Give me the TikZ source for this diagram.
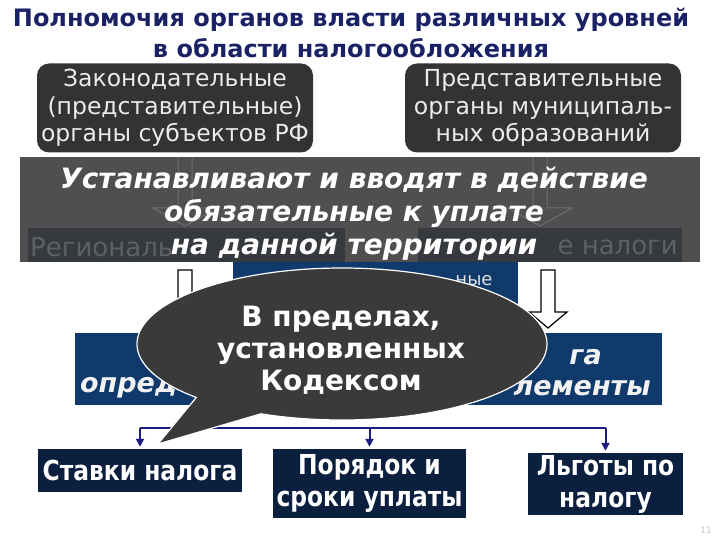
\documentclass[tikz,border=0pt]{standalone}
\usepackage{fontspec}
\setmainfont{DejaVu Sans}[ItalicFont=DejaVu Sans Oblique, BoldItalicFont=DejaVu Sans Bold Oblique]
\newfontfamily\narrowfont{DejaVu Sans}[FakeStretch=0.85]
\usetikzlibrary{positioning,shapes.callouts,arrows.meta}
\definecolor{titleblue}{HTML}{1A2266}
\definecolor{charcoal}{HTML}{333333}
\definecolor{bannergray}{HTML}{4F4F4F}
\definecolor{barslate}{HTML}{363A3E}
\definecolor{bartext}{HTML}{5E6164}
\definecolor{ghostline}{HTML}{6E6E6E}
\definecolor{navy}{HTML}{0F3A6B}
\definecolor{deepnavy}{HTML}{0B1F3F}
\definecolor{treeblue}{HTML}{1C1C80}
\definecolor{bubble}{HTML}{3A3A3A}

\begin{document}
\begin{tikzpicture}[x=1pt,y=-1pt,
  organ/.style={fill=charcoal, rounded corners=12pt, text=black!8, align=center,
    font=\fontsize{23.5}{27.5}\selectfont, inner sep=0pt},
  taxbox/.style={fill=deepnavy, text=white, align=center, inner sep=0pt,
    font=\narrowfont\bfseries\fontsize{27.5}{32}\selectfont},
  frag/.style={text=black!5, inner sep=0pt, font=\bfseries\itshape\fontsize{27}{31}\selectfont},
  ghosttext/.style={text=bartext, inner sep=0pt, font=\fontsize{26}{30}\selectfont},
  hollow/.style={draw=black, fill=white, line width=1.2pt},
  tree/.style={draw=treeblue, line width=2pt}]
\useasboundingbox (0,0) rectangle (720,540);

% title
\node[text=titleblue, align=center, font=\bfseries\fontsize{24}{31}\selectfont] (title) at (351,33)
  {Полномочия органов власти различных уровней\\в области налогообложения};

% legislative bodies
\node[organ, minimum width=276, minimum height=89] (regional) at (175,108)
  {Законодательные\\(представительные)\\органы субъектов РФ};
\node[organ, minimum width=276, minimum height=89] (municipal) at (543,108)
  {Представительные\\органы муниципаль-\\ных образований};

% banner with the layer below showing through
\fill[bannergray] (20,157) rectangle (700,262);
\fill[barslate] (28,228) rectangle (345,262);
\fill[barslate] (418,228) rectangle (682,262);
\node[ghosttext, anchor=west] (regtax) at (30,247) {Региональ};
\node[ghosttext, anchor=east] (loctax) at (678,247) {е налоги};
\foreach \ax in {185,540}
  \draw[ghostline, line width=1pt] (\ax-7,157) -- (\ax-7,208) -- (\ax-32,208) -- (\ax,226)
    -- (\ax+32,208) -- (\ax+7,208) -- (\ax+7,157);
\node[text=white, align=center, inner sep=0pt, font=\bfseries\itshape\fontsize{28}{33}\selectfont] (enact) at (354,214)
  {Устанавливают и вводят в действие\\обязательные к уплате\\на данной территории};

% partly hidden box
\fill[navy] (233,262) rectangle (518,305);
\node[text=black!12, inner sep=0pt, font=\fontsize{18}{20}\selectfont] (hidden) at (474,281) {ные};

% hollow arrows
\foreach \ax in {185,548}
  \draw[hollow] (\ax-7,270) -- (\ax-7,312) -- (\ax-19,312) -- (\ax,328)
    -- (\ax+19,312) -- (\ax+7,312) -- (\ax+7,270) -- cycle;

% elements box
\fill[navy] (75,333) rectangle (662,405);
\node[frag, anchor=east] (elem1) at (602,357) {га};
\node[frag, anchor=west] (elem2) at (80,388) {опред};
\node[frag, anchor=east] (elem3) at (651,388) {лементы};

% bottom boxes
\node[taxbox, minimum width=204, minimum height=43] (rates) at (140,470.5) {Ставки налога};
\node[taxbox, minimum width=193, minimum height=69] (order) at (369.5,483.5) {Порядок и\\сроки уплаты};
\node[taxbox, minimum width=155, minimum height=62] (benefits) at (605.5,484) {Льготы по\\налогу};
\coordinate (fork) at (370,428);
\draw[tree] (rates.north |- fork) -- (benefits.north |- fork);
\foreach \b in {rates,order,benefits}
  \draw[tree, -{Triangle[width=8pt,length=8pt]}, shorten >=2pt] (\b.north |- fork) -- (\b.north);

% callout
\node[ellipse callout, callout absolute pointer={(158,444)}, callout pointer arc=22,
  fill=bubble, draw=white, line width=1.2pt, minimum width=410, minimum height=152,
  inner sep=0pt] (bubble) at (342,344) {};
\node[text=white, align=center, inner sep=0pt, font=\bfseries\fontsize{28}{32}\selectfont] (limits) at (341,350)
  {В пределах,\\установленных\\Кодексом};

\node[text=black!22, font=\fontsize{9}{10}\selectfont] (page) at (706,530) {11};
\end{tikzpicture}
\end{document}
